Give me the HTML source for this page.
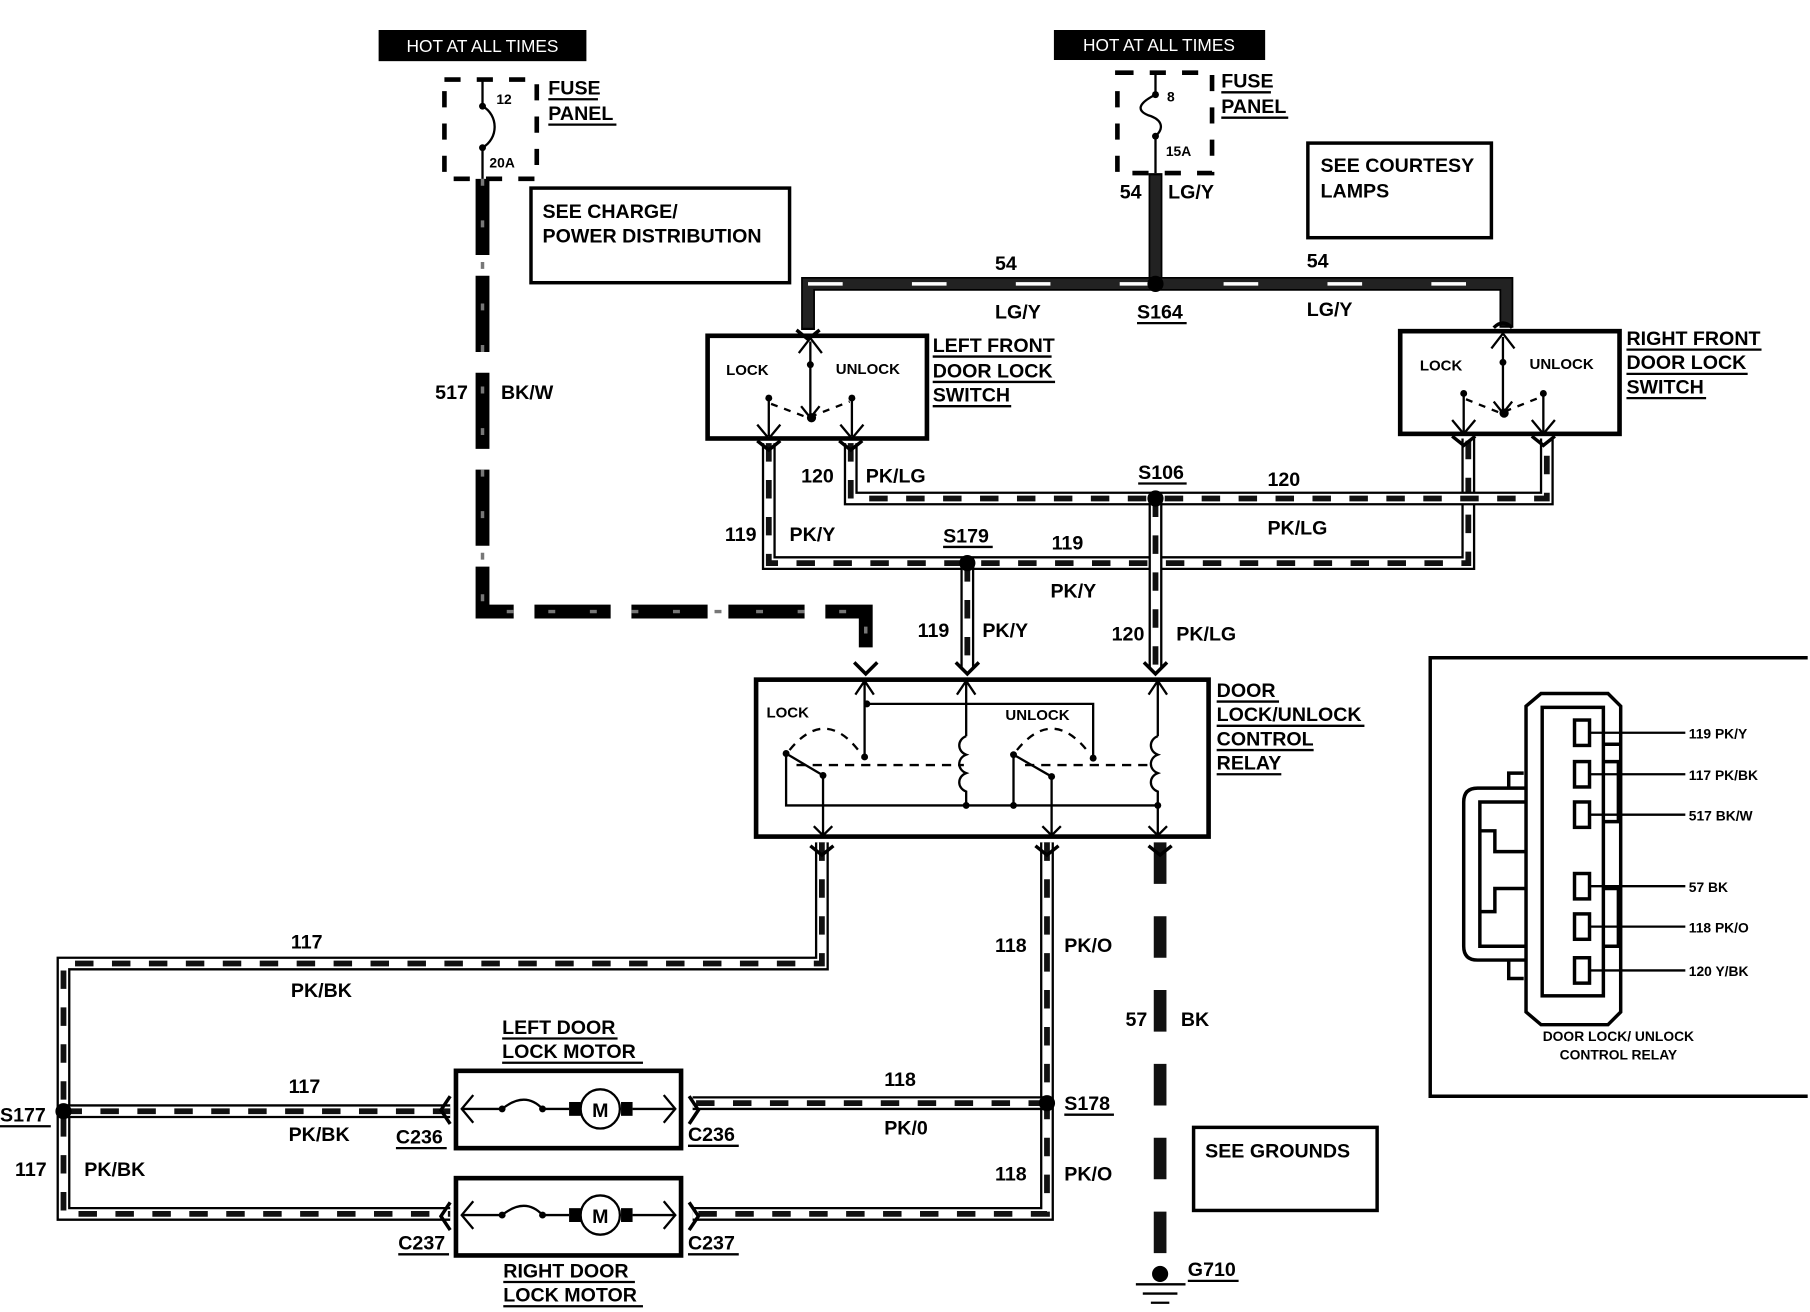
<!DOCTYPE html>
<html><head><meta charset="utf-8"><style>
html,body{margin:0;padding:0;background:#fff}
svg{display:block}
text{font-family:"Liberation Sans",sans-serif;font-weight:bold;fill:#000}
.o{fill:none;stroke:#000;stroke-width:12}
.i{fill:none;stroke:#fff;stroke-width:8}
.d{fill:none;stroke:#111;stroke-width:5;stroke-dasharray:16 16}
.dk{fill:none;stroke:#222;stroke-width:9}
.th{fill:none;stroke:#000;stroke-width:2}
.bx{fill:none;stroke:#000;stroke-width:3}
.ch{fill:none;stroke:#000;stroke-width:3}
</style></head><body>
<svg width="1810" height="1312" viewBox="0 0 1568 1137" preserveAspectRatio="none" xmlns="http://www.w3.org/2000/svg">
<defs>
<path id="w119" d="M666 384 V488 H1272 V380"/>
<path id="w120" d="M737 384 V432 H1340 V380"/>
<path id="w119b" d="M838 488 V578"/>
<path id="w120b" d="M1001 432 V578"/>
<path id="w117" d="M712 730 V835 H55 V1052 H390"/>
<path id="w117b" d="M55 963 H390"/>
<path id="w118" d="M907 730 V1052 H600"/>
<path id="w118b" d="M907 956 H600"/>
</defs>
<rect x="328" y="26" width="180" height="27" fill="#000"/>
<text x="418" y="45" font-size="15" text-anchor="middle" style="fill:#fff;font-weight:normal">HOT AT ALL TIMES</text>
<rect x="913" y="26" width="183" height="26" fill="#000"/>
<text x="1004" y="44" font-size="15" text-anchor="middle" style="fill:#fff;font-weight:normal">HOT AT ALL TIMES</text>
<rect x="385" y="69" width="80" height="86" fill="none" stroke="#000" stroke-width="4" stroke-dasharray="14 14"/>
<path d="M418 69 V92 C432 100 432 120 418 128 V155" class="th"/>
<circle cx="418" cy="92" r="3"/><circle cx="418" cy="128" r="3"/>
<text x="430" y="90" font-size="12">12</text><text x="424" y="145" font-size="12">20A</text>
<text x="475" y="82" font-size="17">FUSE</text><text x="475" y="104" font-size="17">PANEL</text>
<path d="M475 86 H518 M475 108 H534" class="th"/>
<rect x="968" y="63" width="82" height="87" fill="none" stroke="#000" stroke-width="4" stroke-dasharray="14 14"/>
<path d="M1001 63 V82 C985 90 985 96 995 100 C1008 104 1008 112 1001 118 V150" class="th"/>
<circle cx="1001" cy="82" r="3"/><circle cx="1001" cy="118" r="3"/>
<text x="1011" y="88" font-size="12">8</text><text x="1010" y="135" font-size="12">15A</text>
<text x="1058" y="76" font-size="17">FUSE</text><text x="1058" y="98" font-size="17">PANEL</text>
<path d="M1058 80 H1101 M1058 102 H1116" class="th"/>
<rect x="460" y="163" width="224" height="82" class="bx"/>
<text x="470" y="189" font-size="17">SEE CHARGE/</text><text x="470" y="210" font-size="17">POWER DISTRIBUTION</text>
<rect x="1133" y="124" width="159" height="82" class="bx"/>
<text x="1144" y="149" font-size="17">SEE COURTESY</text><text x="1144" y="171" font-size="17">LAMPS</text>
<rect x="1034" y="977" width="159" height="72" class="bx"/>
<text x="1044" y="1003" font-size="17">SEE GROUNDS</text>
<path d="M418 155 V530 H750 V576" fill="none" stroke="#000" stroke-width="12" stroke-dasharray="66 18"/>
<path d="M418 155 V530 H750 V576" fill="none" stroke="#777" stroke-width="3" stroke-dasharray="6 30"/>
<text x="377" y="346" font-size="17">517</text><text x="434" y="346" font-size="17">BK/W</text>
<path d="M1001 150 V246 M700 286 V246 H1305 V284" class="o"/>
<path d="M1001 152 V240 M700 284 V246 H1305 V282" class="dk"/>
<path d="M700 246 H1305" fill="none" stroke="#fff" stroke-width="3" stroke-dasharray="30 60"/>
<circle cx="1001" cy="246" r="7"/>
<text x="970" y="172" font-size="17">54</text><text x="1012" y="172" font-size="17">LG/Y</text>
<text x="862" y="234" font-size="17">54</text><text x="862" y="276" font-size="17">LG/Y</text>
<text x="985" y="276" font-size="17">S164</text><path d="M985 280 H1028" class="th"/>
<text x="1132" y="232" font-size="17">54</text><text x="1132" y="274" font-size="17">LG/Y</text>
<g>
<use href="#w119" class="o"/><use href="#w119" class="i"/><use href="#w119" class="d"/>
<use href="#w120" class="o"/><use href="#w120" class="i"/><use href="#w120" class="d"/>
<use href="#w119b" class="o"/><use href="#w119b" class="i"/><use href="#w119b" class="d"/>
<use href="#w120b" class="o"/><use href="#w120b" class="i"/><use href="#w120b" class="d"/>
<use href="#w117" class="o"/><use href="#w117" class="i"/><use href="#w117" class="d"/>
<use href="#w117b" class="o"/><use href="#w117b" class="i"/><use href="#w117b" class="d"/>
<use href="#w118" class="o"/><use href="#w118" class="i"/><use href="#w118" class="d"/>
<use href="#w118b" class="o"/><use href="#w118b" class="i"/><use href="#w118b" class="d"/>
</g>
<circle cx="1001" cy="432" r="7"/><circle cx="838" cy="488" r="7"/>
<circle cx="55" cy="963" r="7"/><circle cx="907" cy="956" r="7"/>
<text x="694" y="418" font-size="17">120</text><text x="750" y="418" font-size="17">PK/LG</text>
<text x="628" y="469" font-size="17">119</text><text x="684" y="469" font-size="17">PK/Y</text>
<text x="986" y="415" font-size="17">S106</text><path d="M986 419 H1028" class="th"/>
<text x="1098" y="421" font-size="17">120</text><text x="1098" y="463" font-size="17">PK/LG</text>
<text x="817" y="470" font-size="17">S179</text><path d="M817 474 H860" class="th"/>
<text x="911" y="476" font-size="17">119</text><text x="910" y="518" font-size="17">PK/Y</text>
<text x="795" y="552" font-size="17">119</text><text x="851" y="552" font-size="17">PK/Y</text>
<text x="963" y="555" font-size="17">120</text><text x="1019" y="555" font-size="17">PK/LG</text>
<text x="252" y="822" font-size="17">117</text><text x="252" y="864" font-size="17">PK/BK</text>
<text x="250" y="947" font-size="17">117</text><text x="250" y="989" font-size="17">PK/BK</text>
<text x="13" y="1019" font-size="17">117</text><text x="73" y="1019" font-size="17">PK/BK</text>
<text x="0" y="972" font-size="17">S177</text><path d="M0 976 H44" class="th"/>
<text x="862" y="825" font-size="17">118</text><text x="922" y="825" font-size="17">PK/O</text>
<text x="766" y="941" font-size="17">118</text><text x="766" y="983" font-size="17">PK/0</text>
<text x="922" y="962" font-size="17">S178</text><path d="M922 966 H965" class="th"/>
<text x="862" y="1023" font-size="17">118</text><text x="922" y="1023" font-size="17">PK/O</text>
<text x="975" y="889" font-size="17">57</text><text x="1023" y="889" font-size="17">BK</text>
<text x="343" y="991" font-size="17">C236</text><path d="M343 995 H387" class="th"/>
<text x="596" y="989" font-size="17">C236</text><path d="M596 993 H640" class="th"/>
<text x="345" y="1083" font-size="17">C237</text><path d="M345 1087 H389" class="th"/>
<text x="596" y="1083" font-size="17">C237</text><path d="M596 1087 H640" class="th"/>
<path d="M1005 730 V1090" fill="none" stroke="#111" stroke-width="11" stroke-dasharray="36 28"/>
<circle cx="1005" cy="1104" r="7"/>
<path d="M984 1113 H1027 M990 1121 H1020 M997 1129 H1013" class="th"/>
<text x="1029" y="1106" font-size="17">G710</text><path d="M1029 1110 H1073" class="th"/>
<rect x="613" y="291" width="190" height="89" fill="#fff" stroke="#000" stroke-width="4"/>
<text x="629" y="325" font-size="13">LOCK</text><text x="724" y="324" font-size="13">UNLOCK</text>
<path d="M702 296 V362 M692 306 L702 293 L712 306 M694 352 L702 362 L710 352 M666 345 V378 M656 368 L666 380 L676 368 M738 345 V378 M728 368 L738 380 L748 368" class="th"/>
<circle cx="702" cy="316" r="3"/><circle cx="666" cy="345" r="3"/><circle cx="738" cy="345" r="3"/><circle cx="703" cy="362" r="4"/>
<path d="M668 350 L700 362 L736 348" fill="none" stroke="#000" stroke-width="2" stroke-dasharray="6 6"/>
<path d="M690 286 L700 294 L710 286 M656 382 L666 390 L676 382 M727 382 L737 390 L747 382" class="ch"/>
<text x="808" y="305" font-size="17">LEFT FRONT</text><text x="808" y="327" font-size="17">DOOR LOCK</text><text x="808" y="348" font-size="17">SWITCH</text>
<path d="M808 309 H911 M808 331 H914 M808 352 H876" class="th"/>
<rect x="1213" y="287" width="190" height="89" fill="#fff" stroke="#000" stroke-width="4"/>
<text x="1230" y="321" font-size="13">LOCK</text><text x="1325" y="320" font-size="13">UNLOCK</text>
<path d="M1302 292 V358 M1292 302 L1302 289 L1312 302 M1294 348 L1302 358 L1310 348 M1268 343 V374 M1258 364 L1268 376 L1278 364 M1337 343 V374 M1327 364 L1337 376 L1347 364" class="th"/>
<circle cx="1302" cy="314" r="3"/><circle cx="1268" cy="341" r="3"/><circle cx="1337" cy="341" r="3"/><circle cx="1303" cy="358" r="4"/>
<path d="M1270 346 L1300 358 L1335 344" fill="none" stroke="#000" stroke-width="2" stroke-dasharray="6 6"/>
<path d="M1258 378 L1268 386 L1278 378 M1327 378 L1337 386 L1347 378" class="ch"/>
<path d="M1294 284 Q1302 276 1310 284" class="ch"/>
<text x="1409" y="299" font-size="17">RIGHT FRONT</text><text x="1409" y="320" font-size="17">DOOR LOCK</text><text x="1409" y="341" font-size="17">SWITCH</text>
<path d="M1409 303 H1526 M1409 324 H1514 M1409 345 H1478" class="th"/>
<rect x="655" y="589" width="392" height="136" fill="#fff" stroke="#000" stroke-width="4"/>
<path d="M740 574 L750 584 L760 574 M828 574 L838 584 L848 574 M991 574 L1001 584 L1011 574" class="ch"/>
<path d="M702 733 L712 741 L722 733 M897 733 L907 741 L917 733 M995 733 L1005 741 L1015 733" class="ch"/>
<text x="664" y="622" font-size="13">LOCK</text><text x="871" y="624" font-size="13">UNLOCK</text>
<g class="th">
<path d="M749 590 V656 M741 602 L749 590 L757 602 M751 610 H947 V657"/>
<path d="M837 590 V638 M829 602 L837 590 L845 602"/>
<path d="M837 638 c-8 3 -8 13 0 16 c-8 3 -8 13 0 16 c-8 3 -8 13 0 16 V698"/>
<path d="M1003 590 V638 M995 602 L1003 590 L1011 602"/>
<path d="M1003 638 c-8 3 -8 13 0 16 c-8 3 -8 13 0 16 c-8 3 -8 13 0 16 V724 M995 716 L1003 724 L1011 716"/>
<path d="M681 653 V698 H1003 M878 654 V698"/>
<path d="M681 653 L713 672 V724 M705 716 L713 724 L721 716"/>
<path d="M878 654 L911 673 V724 M903 716 L911 724 L919 716"/>
</g>
<path d="M684 650 Q715 612 745 652" fill="none" stroke="#000" stroke-width="2" stroke-dasharray="7 6"/>
<path d="M881 650 Q912 612 943 652" fill="none" stroke="#000" stroke-width="2" stroke-dasharray="7 6"/>
<path d="M690 663 H835 M888 663 H1000" fill="none" stroke="#000" stroke-width="2" stroke-dasharray="8 6"/>
<circle cx="681" cy="653" r="3"/><circle cx="713" cy="672" r="3"/><circle cx="749" cy="656" r="3"/><circle cx="751" cy="610" r="3"/>
<circle cx="878" cy="654" r="3"/><circle cx="911" cy="673" r="3"/><circle cx="947" cy="657" r="3"/>
<circle cx="837" cy="698" r="3"/><circle cx="878" cy="698" r="3"/><circle cx="1003" cy="698" r="3"/>
<text x="1054" y="604" font-size="17">DOOR</text><text x="1054" y="625" font-size="17">LOCK/UNLOCK</text><text x="1054" y="646" font-size="17">CONTROL</text><text x="1054" y="667" font-size="17">RELAY</text>
<path d="M1054 608 H1108 M1054 629 H1182 M1054 650 H1138 M1054 671 H1110" class="th"/>
<g>
<rect x="395" y="928" width="195" height="67" fill="#fff" stroke="#000" stroke-width="4"/>
<path d="M400 961 H435 Q455 945 470 961 H493 M548 961 H585 M410 949 L400 961 L410 973 M575 949 L585 961 L575 973" class="th"/>
<circle cx="435" cy="961" r="3"/><circle cx="470" cy="961" r="3"/>
<rect x="493" y="955" width="10" height="12"/><rect x="538" y="955" width="10" height="12"/>
<circle cx="520" cy="961" r="17" fill="#fff" stroke="#000" stroke-width="2"/>
<text x="520" y="968" font-size="17" text-anchor="middle">M</text>
<path d="M390 950 L382 962 L390 974 M597 950 L605 962 L597 974" class="ch"/>
</g>
<g>
<rect x="395" y="1021" width="195" height="67" fill="#fff" stroke="#000" stroke-width="4"/>
<path d="M400 1053 H435 Q455 1037 470 1053 H493 M548 1053 H585 M410 1041 L400 1053 L410 1065 M575 1041 L585 1053 L575 1065" class="th"/>
<circle cx="435" cy="1053" r="3"/><circle cx="470" cy="1053" r="3"/>
<rect x="493" y="1047" width="10" height="12"/><rect x="538" y="1047" width="10" height="12"/>
<circle cx="520" cy="1053" r="17" fill="#fff" stroke="#000" stroke-width="2"/>
<text x="520" y="1060" font-size="17" text-anchor="middle">M</text>
<path d="M390 1042 L382 1054 L390 1066 M597 1042 L605 1054 L597 1066" class="ch"/>
</g>
<text x="435" y="896" font-size="17">LEFT DOOR</text><text x="435" y="917" font-size="17">LOCK MOTOR</text>
<path d="M435 900 H535 M435 921 H557" class="th"/>
<text x="436" y="1107" font-size="17">RIGHT DOOR</text><text x="436" y="1128" font-size="17">LOCK MOTOR</text>
<path d="M436 1111 H550 M436 1132 H557" class="th"/>
<path d="M1566 570 H1239 V950 H1566" class="bx"/>
<g class="bx">
<path d="M1335 601 H1393 L1404 612 V877 L1393 888 H1335 L1322 877 V612 Z"/>
<rect x="1336" y="613" width="53" height="250"/>
<path d="M1322 683 H1280 Q1268 683 1268 695 V820 Q1268 832 1280 832 H1322"/>
<path d="M1322 695 H1282 V820 H1322 M1282 720 H1295 V738 H1322 M1282 790 H1295 V770 H1322"/>
<path d="M1389 660 H1402 V712 H1389 M1389 645 H1404 M1389 770 H1402 V820 H1389"/>
<path d="M1307 683 V670 H1320 M1307 832 V848 H1320"/>
</g>
<g fill="#fff" stroke="#000" stroke-width="3">
<rect x="1364" y="624" width="13" height="22"/><rect x="1364" y="660" width="13" height="22"/><rect x="1364" y="695" width="13" height="22"/>
<rect x="1364" y="757" width="13" height="22"/><rect x="1364" y="792" width="13" height="22"/><rect x="1364" y="830" width="13" height="22"/>
</g>
<path d="M1377 635 H1460 M1377 671 H1460 M1377 706 H1460 M1377 768 H1460 M1377 803 H1460 M1377 841 H1460" class="th"/>
<text x="1463" y="640" font-size="12">119 PK/Y</text><text x="1463" y="676" font-size="12">117 PK/BK</text><text x="1463" y="711" font-size="12">517 BK/W</text>
<text x="1463" y="773" font-size="12">57 BK</text><text x="1463" y="808" font-size="12">118 PK/O</text><text x="1463" y="846" font-size="12">120 Y/BK</text>
<text x="1402" y="902" font-size="12" text-anchor="middle">DOOR LOCK/ UNLOCK</text>
<text x="1402" y="918" font-size="12" text-anchor="middle">CONTROL RELAY</text>
</svg>
</body></html>
